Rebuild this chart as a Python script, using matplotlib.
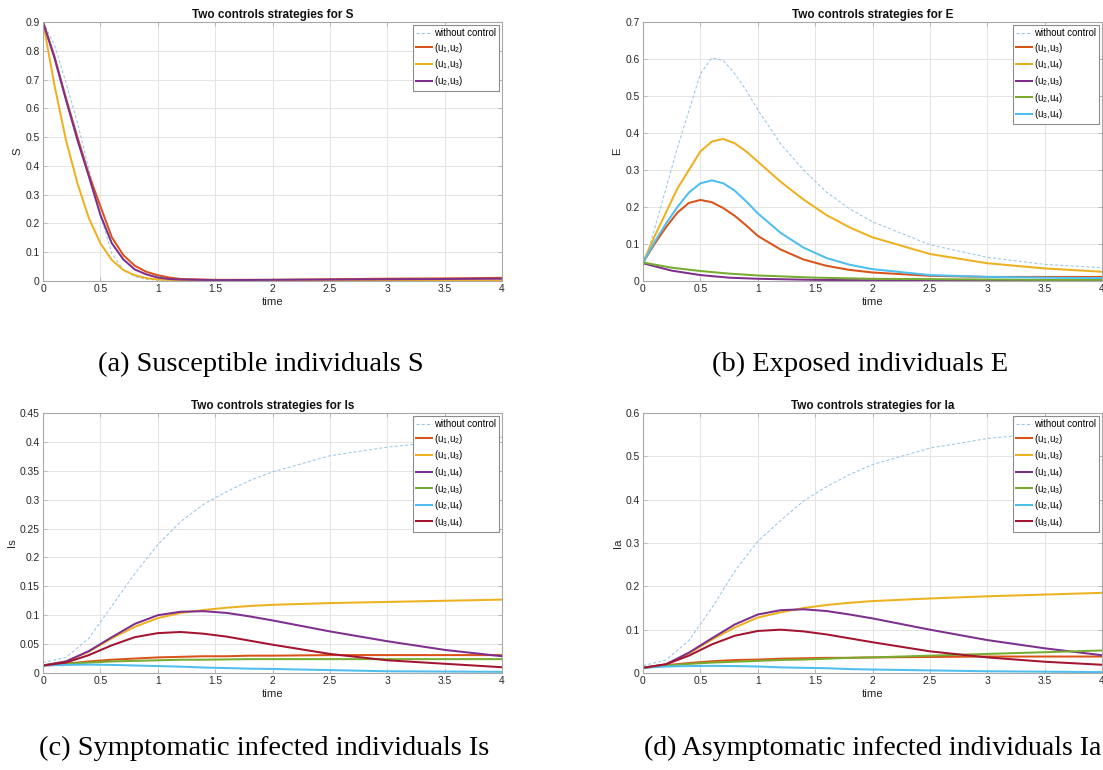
import matplotlib
matplotlib.use("Agg")
import matplotlib.pyplot as plt
from matplotlib.ticker import FormatStrFormatter, MultipleLocator

plt.rcParams['font.family'] = ['Liberation Sans', 'DejaVu Sans']
plt.rcParams['mathtext.fontset'] = 'custom'
plt.rcParams['mathtext.rm'] = 'Liberation Sans'
plt.rcParams['mathtext.it'] = 'Liberation Sans:italic'
plt.rcParams['mathtext.bf'] = 'Liberation Sans:bold'

# ---------------- data ----------------
# Panel (a): S
t_S = [0, 0.1, 0.2, 0.3, 0.4, 0.5, 0.6, 0.7, 0.8, 0.9, 1.0, 1.1, 1.2, 1.5, 2.0, 2.5, 3.0, 3.5, 4.0]
S_none = [0.9, 0.82, 0.69, 0.55, 0.39, 0.23, 0.095, 0.04, 0.015, 0.006, 0.003, 0.002, 0.001, 0.001, 0.001, 0.001, 0.001, 0.001, 0.001]
S_u1u2 = [0.9, 0.78, 0.635, 0.5, 0.37, 0.26, 0.152, 0.09, 0.053, 0.032, 0.02, 0.012, 0.007, 0.004, 0.004, 0.006, 0.008, 0.009, 0.011]
S_u1u3 = [0.9, 0.68, 0.49, 0.34, 0.218, 0.131, 0.073, 0.038, 0.02, 0.01, 0.005, 0.004, 0.003, 0.002, 0.002, 0.002, 0.002, 0.002, 0.002]
S_u2u3 = [0.9, 0.775, 0.63, 0.49, 0.363, 0.23, 0.131, 0.075, 0.04, 0.023, 0.012, 0.007, 0.005, 0.003, 0.004, 0.005, 0.006, 0.007, 0.008]

# Panel (b): E
t_E = [0, 0.1, 0.2, 0.3, 0.4, 0.5, 0.6, 0.7, 0.8, 0.9, 1.0, 1.2, 1.4, 1.6, 1.8, 2.0, 2.5, 3.0, 3.5, 4.0]
E_none = [0.034, 0.14, 0.25, 0.36, 0.46, 0.56, 0.603, 0.596, 0.56, 0.515, 0.463, 0.37, 0.3, 0.24, 0.195, 0.16, 0.098, 0.064, 0.045, 0.036]
E_u1u3 = [0.05, 0.1, 0.145, 0.185, 0.211, 0.219, 0.213, 0.197, 0.176, 0.15, 0.122, 0.085, 0.058, 0.041, 0.03, 0.023, 0.014, 0.011, 0.011, 0.011]
E_u1u4 = [0.05, 0.12, 0.185, 0.25, 0.30, 0.35, 0.377, 0.384, 0.372, 0.35, 0.323, 0.268, 0.22, 0.178, 0.145, 0.118, 0.073, 0.048, 0.034, 0.025]
E_u3u4 = [0.05, 0.105, 0.155, 0.2, 0.239, 0.264, 0.272, 0.264, 0.244, 0.215, 0.183, 0.13, 0.09, 0.062, 0.044, 0.032, 0.016, 0.011, 0.009, 0.008]
t_E2 = [0, 0.25, 0.5, 0.75, 1.0, 1.5, 2.0, 2.5, 3.0, 3.5, 4.0]
E_u2u3 = [0.048, 0.028, 0.016, 0.009, 0.006, 0.003, 0.002, 0.0015, 0.001, 0.001, 0.001]
E_u2u4 = [0.05, 0.036, 0.027, 0.02, 0.015, 0.009, 0.006, 0.005, 0.004, 0.003, 0.003]

# Panels (c) and (d): Is, Ia
t_I = [0, 0.2, 0.4, 0.6, 0.8, 1.0, 1.2, 1.4, 1.6, 1.8, 2.0, 2.5, 3.0, 3.5, 4.0]
Is_none = [0.018, 0.027, 0.06, 0.116, 0.172, 0.222, 0.262, 0.292, 0.314, 0.333, 0.348, 0.376, 0.391, 0.401, 0.408]
Is_u1u2 = [0.013, 0.016, 0.02, 0.023, 0.025, 0.027, 0.028, 0.029, 0.029, 0.03, 0.03, 0.031, 0.031, 0.031, 0.031]
Is_u1u3 = [0.013, 0.02, 0.037, 0.06, 0.08, 0.095, 0.104, 0.109, 0.113, 0.116, 0.118, 0.121, 0.123, 0.125, 0.127]
Is_u1u4 = [0.013, 0.02, 0.038, 0.062, 0.085, 0.1, 0.106, 0.107, 0.104, 0.098, 0.091, 0.072, 0.055, 0.04, 0.029]
Is_u2u3 = [0.013, 0.016, 0.018, 0.02, 0.021, 0.022, 0.023, 0.023, 0.0235, 0.024, 0.024, 0.024, 0.024, 0.024, 0.024]
Is_u2u4 = [0.013, 0.014, 0.0145, 0.014, 0.013, 0.012, 0.011, 0.0095, 0.0085, 0.0075, 0.007, 0.005, 0.003, 0.0025, 0.002]
Is_u3u4 = [0.013, 0.018, 0.031, 0.048, 0.062, 0.069, 0.071, 0.068, 0.063, 0.056, 0.049, 0.033, 0.022, 0.016, 0.01]

Ia_none = [0.017, 0.03, 0.075, 0.15, 0.235, 0.304, 0.352, 0.397, 0.43, 0.458, 0.481, 0.519, 0.541, 0.554, 0.562]
Ia_u1u2 = [0.012, 0.018, 0.023, 0.027, 0.03, 0.031, 0.033, 0.034, 0.035, 0.035, 0.036, 0.037, 0.038, 0.038, 0.038]
Ia_u1u3 = [0.012, 0.02, 0.045, 0.077, 0.105, 0.128, 0.14, 0.15, 0.157, 0.162, 0.166, 0.172, 0.177, 0.181, 0.185]
Ia_u1u4 = [0.012, 0.02, 0.047, 0.08, 0.112, 0.135, 0.145, 0.147, 0.143, 0.135, 0.126, 0.1, 0.076, 0.057, 0.041]
Ia_u2u3 = [0.012, 0.017, 0.021, 0.024, 0.026, 0.028, 0.03, 0.031, 0.033, 0.035, 0.036, 0.04, 0.044, 0.048, 0.052]
Ia_u2u4 = [0.012, 0.015, 0.016, 0.0165, 0.016, 0.015, 0.013, 0.012, 0.011, 0.009, 0.008, 0.006, 0.004, 0.003, 0.002]
Ia_u3u4 = [0.012, 0.02, 0.04, 0.066, 0.086, 0.097, 0.1, 0.096, 0.089, 0.08, 0.071, 0.05, 0.036, 0.026, 0.019]

titles = ["Two controls strategies for S", "Two controls strategies for E",
          "Two controls strategies for Is", "Two controls strategies for Ia"]
ylabels = ["S", "E", "Is", "Ia"]
captions = ["(a) Susceptible individuals S", "(b) Exposed individuals E",
            "(c) Symptomatic infected individuals Is", "(d) Asymptomatic infected individuals Ia"]

# ---------------- style ----------------
C_NONE = (0.60, 0.78, 0.89)
C_RED = (0.850, 0.325, 0.098)
C_YEL = (0.929, 0.694, 0.125)
C_PUR = (0.494, 0.184, 0.556)
C_GRN = (0.466, 0.674, 0.188)
C_CYA = (0.301, 0.745, 0.933)
C_DRD = (0.635, 0.078, 0.184)

def lab(a, b):
    return r"(u$_{%d}$,u$_{%d}$)" % (a, b)

W, H = 1103, 770
fig = plt.figure(figsize=(W / 100, H / 100), dpi=100)

def add_ax(l, r, t, b):
    return fig.add_axes([l / W, 1 - b / H, (r - l) / W, (b - t) / H])

axA = add_ax(43, 502, 22, 281)
axB = add_ax(643, 1102, 22, 281)
axC = add_ax(43, 502, 413, 673)
axD = add_ax(643, 1102, 413, 673)

LW = 1.45
NONE_KW = dict(color=C_NONE, lw=0.75, ls=(0, (3, 2)))

# (a)
axA.plot(t_S, S_none, label="without control", **NONE_KW)
axA.plot(t_S, S_u1u2, color=C_RED, lw=LW, label=lab(1, 2))
axA.plot(t_S, S_u1u3, color=C_YEL, lw=LW, label=lab(1, 3))
axA.plot(t_S, S_u2u3, color=C_PUR, lw=LW, label=lab(2, 3))
axA.set_ylim(0, 0.9)
axA.yaxis.set_major_locator(MultipleLocator(0.1))

# (b)
axB.plot(t_E, E_none, label="without control", **NONE_KW)
axB.plot(t_E, E_u1u3, color=C_RED, lw=LW, label=lab(1, 3))
axB.plot(t_E, E_u1u4, color=C_YEL, lw=LW, label=lab(1, 4))
axB.plot(t_E2, E_u2u3, color=C_PUR, lw=LW, label=lab(2, 3))
axB.plot(t_E2, E_u2u4, color=C_GRN, lw=LW, label=lab(2, 4))
axB.plot(t_E, E_u3u4, color=C_CYA, lw=LW, label=lab(3, 4))
axB.set_ylim(0, 0.7)
axB.yaxis.set_major_locator(MultipleLocator(0.1))

# (c)
axC.plot(t_I, Is_none, label="without control", **NONE_KW)
axC.plot(t_I, Is_u1u2, color=C_RED, lw=LW, label=lab(1, 2))
axC.plot(t_I, Is_u1u3, color=C_YEL, lw=LW, label=lab(1, 3))
axC.plot(t_I, Is_u1u4, color=C_PUR, lw=LW, label=lab(1, 4))
axC.plot(t_I, Is_u2u3, color=C_GRN, lw=LW, label=lab(2, 3))
axC.plot(t_I, Is_u2u4, color=C_CYA, lw=LW, label=lab(2, 4))
axC.plot(t_I, Is_u3u4, color=C_DRD, lw=LW, label=lab(3, 4))
axC.set_ylim(0, 0.45)
axC.yaxis.set_major_locator(MultipleLocator(0.05))

# (d)
axD.plot(t_I, Ia_none, label="without control", **NONE_KW)
axD.plot(t_I, Ia_u1u2, color=C_RED, lw=LW, label=lab(1, 2))
axD.plot(t_I, Ia_u1u3, color=C_YEL, lw=LW, label=lab(1, 3))
axD.plot(t_I, Ia_u1u4, color=C_PUR, lw=LW, label=lab(1, 4))
axD.plot(t_I, Ia_u2u3, color=C_GRN, lw=LW, label=lab(2, 3))
axD.plot(t_I, Ia_u2u4, color=C_CYA, lw=LW, label=lab(2, 4))
axD.plot(t_I, Ia_u3u4, color=C_DRD, lw=LW, label=lab(3, 4))
axD.set_ylim(0, 0.6)
axD.yaxis.set_major_locator(MultipleLocator(0.1))

for ax, ttl, yl in zip([axA, axB, axC, axD], titles, ylabels):
    ax.set_xlim(0, 4)
    ax.xaxis.set_major_locator(MultipleLocator(0.5))
    ax.xaxis.set_major_formatter(FormatStrFormatter('%g'))
    ax.yaxis.set_major_formatter(FormatStrFormatter('%g'))
    ax.grid(True, color='#e4e4e4', lw=0.7)
    ax.set_axisbelow(True)
    ax.tick_params(direction='in', length=3, width=0.6, labelsize=7.4,
                   colors='#b0b0b0', labelcolor='#262626',
                   top=True, right=True, pad=2.5)
    for s in ax.spines.values():
        s.set_color('#a8a8a8')
        s.set_linewidth(0.8)
    ax.set_title(ttl, fontsize=8.5, fontweight='bold', pad=3, color='#111111')
    ax.set_xlabel("time", fontsize=8.2, labelpad=1.5, color='#262626')
    ax.set_ylabel(yl, fontsize=8.2, labelpad=2, color='#262626')
    leg = ax.legend(loc='upper right', fontsize=6.9, handlelength=1.75,
                    handletextpad=0.15, labelspacing=0.27, borderpad=0.3,
                    borderaxespad=0.35, fancybox=False, framealpha=1)
    leg.get_frame().set_edgecolor('#8c8c8c')
    leg.get_frame().set_linewidth(0.8)

cap_kw = dict(family=['Liberation Serif', 'DejaVu Serif'], fontsize=20.5,
              ha='center', va='center', color='black')
fig.text(261 / W, 1 - 364 / H, captions[0], **cap_kw)
fig.text(860 / W, 1 - 364 / H, captions[1], **cap_kw)
fig.text(264 / W, 1 - 748 / H, captions[2], **cap_kw)
fig.text(1101 / W, 1 - 748 / H, captions[3],
         **{**cap_kw, 'ha': 'right', 'fontsize': 20.0})

fig.savefig("out.png", dpi=100)
